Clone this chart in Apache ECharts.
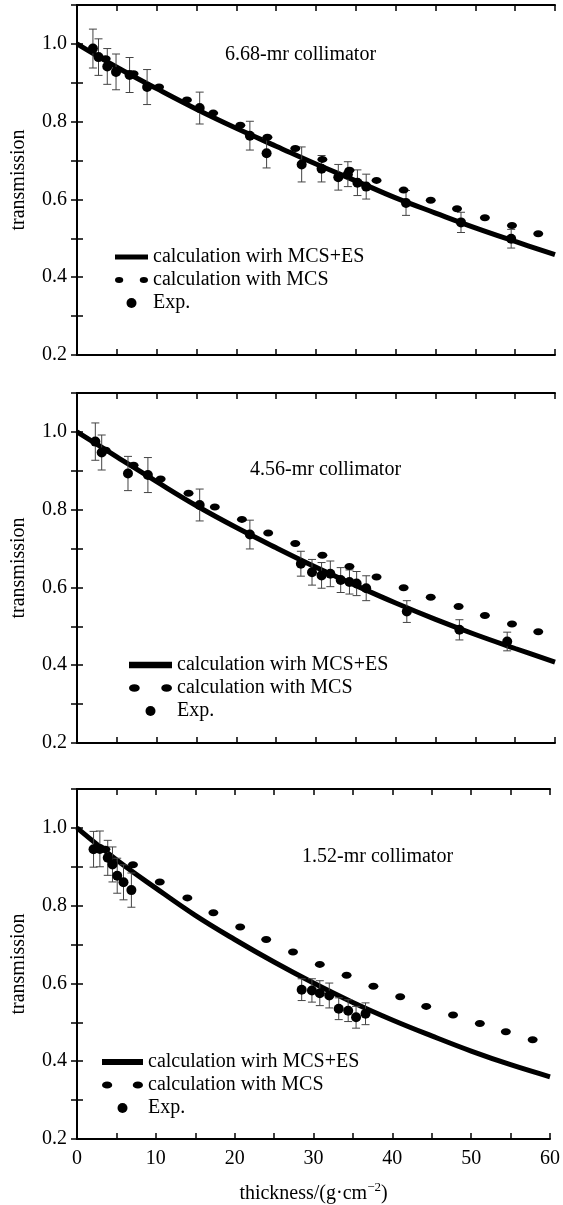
<!DOCTYPE html>
<html lang="en">
<head>
<meta charset="UTF-8">
<title>transmission</title>
<script src="https://cdn.jsdelivr.net/npm/echarts@6/dist/echarts.min.js"></script>
<style>
  html, body { margin: 0; padding: 0; background: #fff; }
  #main { width: 563px; height: 1205px; }
</style>
</head>
<body>
<div id="main"></div>
<script>
// thickness grid for the MCS+ES curves
var thick = [0, 5, 10, 15, 20, 25, 30, 35, 40, 45, 50, 55, 60];

// 6.68-mr collimator
var mcsEs1 = [1.0, 0.94, 0.885, 0.832, 0.783, 0.737, 0.691, 0.648, 0.604, 0.565, 0.527, 0.492, 0.458];
var mcs1X = [3.6, 7.1, 10.3, 13.8, 17.1, 20.5, 23.9, 27.4, 30.8, 34.2, 37.6, 41.0, 44.4, 47.7, 51.2, 54.6, 57.9];
var mcs1Y = [0.962, 0.923, 0.889, 0.856, 0.822, 0.791, 0.760, 0.731, 0.703, 0.675, 0.649, 0.624, 0.598, 0.576, 0.553, 0.533, 0.512];
var exp1X = [2.0, 2.7, 3.8, 4.9, 6.6, 8.8, 15.4, 21.7, 23.8, 28.2, 30.7, 32.8, 34.0, 35.2, 36.3, 41.3, 48.2, 54.5];
var exp1Y = [0.988, 0.966, 0.942, 0.928, 0.920, 0.889, 0.835, 0.764, 0.719, 0.690, 0.679, 0.657, 0.665, 0.643, 0.633, 0.591, 0.541, 0.499];
var exp1Err = [0.050, 0.047, 0.046, 0.046, 0.045, 0.045, 0.041, 0.037, 0.038, 0.045, 0.034, 0.033, 0.032, 0.033, 0.032, 0.032, 0.026, 0.024];

// 4.56-mr collimator
var mcsEs2 = [1.0, 0.936, 0.872, 0.810, 0.754, 0.702, 0.652, 0.605, 0.560, 0.518, 0.479, 0.443, 0.408];
var mcs2X = [3.6, 7.1, 10.5, 14.0, 17.3, 20.7, 24.0, 27.4, 30.8, 34.2, 37.6, 41.0, 44.4, 47.9, 51.2, 54.6, 57.9];
var mcs2Y = [0.953, 0.914, 0.879, 0.842, 0.807, 0.775, 0.740, 0.713, 0.683, 0.654, 0.627, 0.599, 0.575, 0.551, 0.528, 0.506, 0.486];
var exp2X = [2.3, 3.1, 6.4, 8.9, 15.4, 21.7, 28.1, 29.5, 30.7, 31.8, 33.1, 34.2, 35.1, 36.3, 41.4, 48.0, 54.0];
var exp2Y = [0.975, 0.947, 0.893, 0.889, 0.812, 0.736, 0.661, 0.639, 0.631, 0.635, 0.619, 0.614, 0.610, 0.598, 0.538, 0.491, 0.461];
var exp2Err = [0.048, 0.045, 0.044, 0.045, 0.041, 0.037, 0.032, 0.033, 0.033, 0.033, 0.032, 0.031, 0.031, 0.032, 0.028, 0.026, 0.024];

// 1.52-mr collimator
var mcsEs3 = [1.0, 0.918, 0.845, 0.775, 0.713, 0.655, 0.601, 0.551, 0.506, 0.465, 0.426, 0.391, 0.360];
var mcs3X = [3.6, 7.1, 10.5, 14.0, 17.3, 20.7, 24.0, 27.4, 30.8, 34.2, 37.6, 41.0, 44.3, 47.7, 51.1, 54.4, 57.8];
var mcs3Y = [0.945, 0.905, 0.861, 0.820, 0.782, 0.745, 0.713, 0.681, 0.649, 0.621, 0.593, 0.566, 0.541, 0.519, 0.497, 0.476, 0.455];
var exp3X = [2.1, 2.9, 3.9, 4.5, 5.1, 5.9, 6.9, 28.5, 29.8, 30.8, 32.0, 33.2, 34.4, 35.4, 36.6];
var exp3Y = [0.945, 0.946, 0.923, 0.906, 0.877, 0.860, 0.840, 0.584, 0.582, 0.575, 0.569, 0.535, 0.530, 0.513, 0.522];
var exp3Err = [0.046, 0.046, 0.045, 0.045, 0.045, 0.045, 0.044, 0.028, 0.030, 0.032, 0.032, 0.028, 0.028, 0.028, 0.028];

var panelTitles = ['6.68-mr collimator', '4.56-mr collimator', '1.52-mr collimator'];
var legendNames = ['calculation wirh MCS+ES', 'calculation with MCS', 'Exp.'];

var FONT = '"Liberation Serif", "Times New Roman", serif';
var panels = [
  { curve: mcsEs1, mx: mcs1X, my: mcs1Y, ex: exp1X, ey: exp1Y, ee: exp1Err },
  { curve: mcsEs2, mx: mcs2X, my: mcs2Y, ex: exp2X, ey: exp2Y, ee: exp2Err },
  { curve: mcsEs3, mx: mcs3X, my: mcs3Y, ex: exp3X, ey: exp3Y, ee: exp3Err }
];
var gridTops = [5, 393, 789];

function zip(a, b) { return a.map(function (v, i) { return [v, b[i]]; }); }

function renderErr(params, api) {
  var x = api.value(0);
  var top = api.coord([x, api.value(2)]);
  var bot = api.coord([x, api.value(1)]);
  var w = 4;
  var st = { stroke: '#444', lineWidth: 1 };
  return {
    type: 'group',
    children: [
      { type: 'line', shape: { x1: top[0], y1: top[1], x2: bot[0], y2: bot[1] }, style: st },
      { type: 'line', shape: { x1: top[0] - w, y1: top[1], x2: top[0] + w, y2: top[1] }, style: st },
      { type: 'line', shape: { x1: bot[0] - w, y1: bot[1], x2: bot[0] + w, y2: bot[1] }, style: st }
    ]
  };
}

var grids = [], xAxes = [], yAxes = [], series = [], legends = [], graphics = [];
var tickStyle = { show: true, inside: true, length: 6, lineStyle: { color: '#000', width: 1.5 } };
var lineStyle = { show: true, lineStyle: { color: '#000', width: 2 } };

panels.forEach(function (p, i) {
  grids.push({ left: 77, right: 8, top: gridTops[i], height: 350 });

  xAxes.push({
    type: 'value', gridIndex: i, min: 0, max: 60, interval: 5,
    axisLine: lineStyle, axisTick: tickStyle, splitLine: { show: false },
    axisLabel: {
      show: i === 2, margin: 10, color: '#000', fontFamily: FONT, fontSize: 20,
      formatter: function (v) { return v % 10 === 0 ? String(v) : ''; }
    },
    name: i === 2 ? '{a|thickness/(g\u00b7cm}{s|\u22122}{a|)}' : '',
    nameLocation: 'middle', nameGap: 42,
    nameTextStyle: {
      rich: {
        a: { fontFamily: FONT, fontSize: 20, color: '#000' },
        s: { fontFamily: FONT, fontSize: 13, color: '#000', verticalAlign: 'top', padding: [0, 0, 12, 0] }
      }
    }
  });
  xAxes.push({
    type: 'value', gridIndex: i, position: 'top', min: 0, max: 60, interval: 5,
    axisLine: lineStyle, axisTick: tickStyle, axisLabel: { show: false }, splitLine: { show: false }
  });

  yAxes.push({
    type: 'value', gridIndex: i, min: 0.2, max: 1.1, interval: 0.1,
    axisLine: lineStyle, axisTick: tickStyle, splitLine: { show: false },
    axisLabel: {
      margin: 10, color: '#000', fontFamily: FONT, fontSize: 20,
      formatter: function (v) { var k = Math.round(v * 10); return k % 2 === 0 && k <= 10 ? (k / 10).toFixed(1) : ''; }
    },
    name: 'transmission', nameLocation: 'middle', nameGap: 48,
    nameTextStyle: { fontFamily: FONT, fontSize: 20, color: '#000' }
  });
  yAxes.push({
    type: 'value', gridIndex: i, position: 'right', min: 0.2, max: 1.1, interval: 0.1,
    axisLine: lineStyle, axisTick: tickStyle, axisLabel: { show: false }, splitLine: { show: false }
  });

  var xi = i * 2, yi = i * 2;
  series.push({
    name: legendNames[0], type: 'line', xAxisIndex: xi, yAxisIndex: yi,
    data: zip(thick, p.curve), smooth: 0.4, showSymbol: false, symbol: 'none',
    color: '#000', lineStyle: { color: '#000', width: 5 }, z: 2
  });
  series.push({
    name: legendNames[1], type: 'scatter', xAxisIndex: xi, yAxisIndex: yi,
    data: zip(p.mx, p.my), symbol: 'circle', symbolSize: [10, 7],
    color: '#000', itemStyle: { color: '#000', opacity: 1 }, z: 3
  });
  series.push({
    name: 'err' + i, type: 'custom', xAxisIndex: xi, yAxisIndex: yi,
    data: p.ex.map(function (x, k) { return [x, p.ey[k] - p.ee[k], p.ey[k] + p.ee[k]]; }),
    encode: { x: 0, y: [1, 2] }, renderItem: renderErr, z: 3, silent: true
  });
  series.push({
    name: legendNames[2], type: 'scatter', xAxisIndex: xi, yAxisIndex: yi,
    data: zip(p.ex, p.ey), symbol: 'circle', symbolSize: 10,
    color: '#000', itemStyle: { color: '#000', opacity: 1 }, z: 4
  });
});

var legendPos = [
  { left: 110, top: 242, w: 33 },
  { left: 124, top: 650, w: 43 },
  { left: 97, top: 1047, w: 41 }
];
legendPos.forEach(function (lp) {
  legends.push({
    left: lp.left, top: lp.top, orient: 'vertical', itemGap: 3,
    itemWidth: lp.w, itemHeight: 10, symbolKeepAspect: true, selectedMode: false,
    textStyle: { fontFamily: FONT, fontSize: 20, color: '#000' },
    itemStyle: { opacity: 1 },
    data: [
      { name: legendNames[0], icon: 'path://M0,0H40V6H0Z' },
      { name: legendNames[1], icon: 'path://M0,3.5a5,3.5 0 1,0 10,0a5,3.5 0 1,0 -10,0ZM30,3.5a5,3.5 0 1,0 10,0a5,3.5 0 1,0 -10,0Z' },
      { name: legendNames[2], icon: 'circle' }
    ]
  });
});

var titlePos = [[225, 45], [250, 460], [302, 847]];
titlePos.forEach(function (tp, i) {
  graphics.push({
    type: 'text', left: tp[0], top: tp[1],
    style: { text: panelTitles[i], font: '20px ' + FONT, fill: '#000' }
  });
});

var chart = echarts.init(document.getElementById('main'));
chart.setOption({
  animation: false,
  backgroundColor: '#fff',
  grid: grids,
  xAxis: xAxes,
  yAxis: yAxes,
  legend: legends,
  graphic: graphics,
  series: series
});
</script>
</body>
</html>
